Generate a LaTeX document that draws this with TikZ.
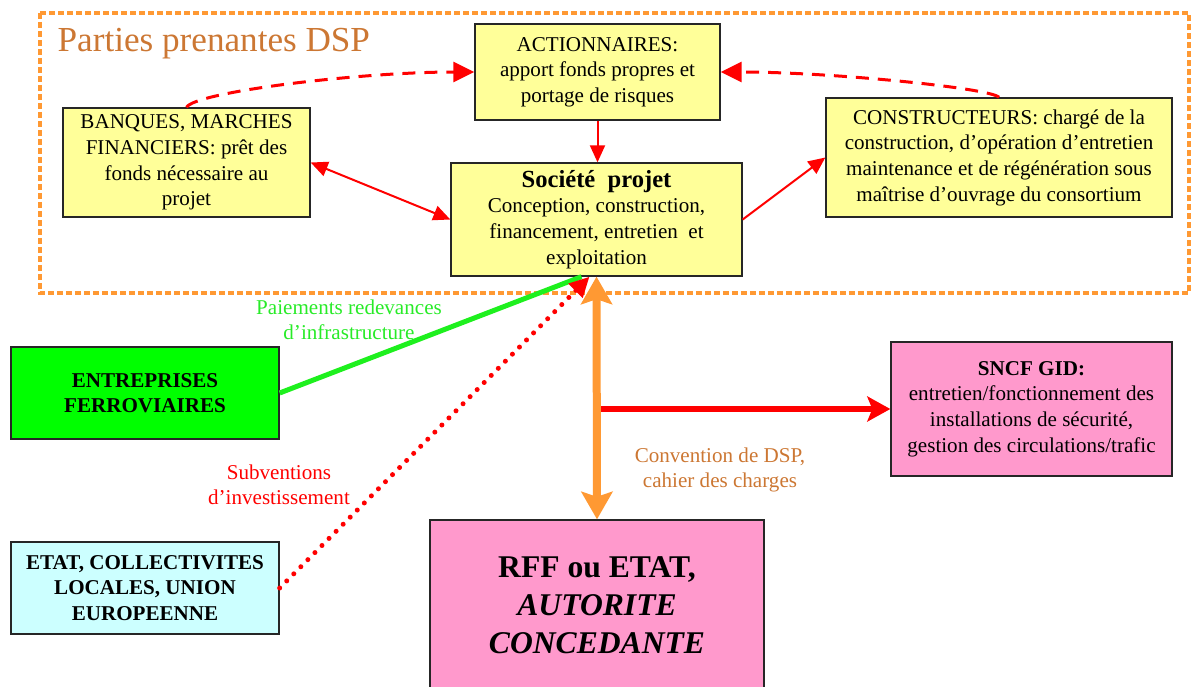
\documentclass[tikz,border=0pt]{standalone}
\usepackage{fontspec}
\setmainfont{Liberation Serif}
\usetikzlibrary{positioning, arrows.meta, calc}

\definecolor{boxyellow}{RGB}{255,255,153}
\definecolor{boxgreen}{RGB}{0,255,0}
\definecolor{boxcyan}{RGB}{204,255,255}
\definecolor{boxpink}{RGB}{255,153,204}
\definecolor{frameorange}{RGB}{255,153,51}
\definecolor{titlebrown}{RGB}{204,119,51}
\definecolor{linegreen}{RGB}{30,240,30}
\definecolor{labelgreen}{RGB}{40,235,40}

\begin{document}
\begin{tikzpicture}[x=0.02cm, y=0.02cm, thick,
  party/.style = {draw=black!85, line width=0.8pt, align=center, inner sep=0pt, font=\fontsize{12}{14.6}\selectfont},
  lien/.style = {red, line width=0.04cm, >={Triangle[length=0.34cm, width=0.3cm]}, ->},
  pointille/.style = {red, line width=0.06cm, dash pattern=on 0.26cm off 0.18cm, -{Triangle[length=0.42cm, width=0.4cm]}},
  etiquette/.style = {align=center, inner sep=0pt, font=\fontsize{12}{14.4}\selectfont}]
    \useasboundingbox (0,0) rectangle (1192,-686);
    % cadre des parties prenantes
    \draw[frameorange, line width=0.09cm, dash pattern=on 0.12cm off 0.06cm] (40,-13) rectangle (1189,-293);
    \node[anchor=base west, text=titlebrown, inner sep=0pt, font=\fontsize{20}{24}\selectfont] (titre) at (57,-52) {Parties prenantes DSP};

    \node[party, fill=boxyellow, minimum width=4.9cm, minimum height=1.92cm] (actionnaires) at (597.5,-72) {ACTIONNAIRES:\\apport fonds propres et\\portage de risques};
    \node[party, fill=boxyellow, minimum width=4.94cm, minimum height=2.18cm] (banques) at (186.5,-162.5) {BANQUES, MARCHES\\FINANCIERS: prêt des\\fonds nécessaire au\\projet};
    \node[party, fill=boxyellow, minimum width=5.82cm, minimum height=2.26cm] (societe) at (596.5,-219.5) {{\fontsize{14}{15}\selectfont\bfseries Société\ \ projet}\\Conception, construction,\\financement, entretien\ \ et\\exploitation};
    \node[party, fill=boxyellow, minimum width=6.92cm, minimum height=2.38cm] (constructeurs) at (999,-157.5) {CONSTRUCTEURS: chargé de la\\construction, d’opération d’entretien\\maintenance et de régénération sous\\maîtrise d’ouvrage du consortium};

    \node[party, fill=boxgreen, minimum width=5.36cm, minimum height=1.84cm, font=\fontsize{12}{14.6}\selectfont\bfseries] (entreprises) at (145,-393) {ENTREPRISES\\FERROVIAIRES};
    \node[party, fill=boxcyan, minimum width=5.36cm, minimum height=1.84cm, font=\fontsize{12}{14.6}\selectfont\bfseries] (etat) at (145,-588) {ETAT, COLLECTIVITES\\LOCALES, UNION\\EUROPEENNE};
    \node[party, fill=boxpink, minimum width=5.62cm, minimum height=2.68cm] (sncf) at (1031.5,-409) {\textbf{SNCF GID:}\\entretien/fonctionnement des\\installations de sécurité,\\gestion des circulations/trafic};
    \node[party, fill=boxpink, minimum width=6.68cm, minimum height=3.4cm, font=\fontsize{18}{21.5}\selectfont\bfseries] (rff) at (597,-605) {RFF ou ETAT,\\\textit{AUTORITE}\\\textit{CONCEDANTE}};

    % liens entre parties
    \draw[pointille] (banques.north) .. controls (195,-92) and (360,-72) .. (actionnaires.west);
    \draw[pointille] (constructeurs.north) .. controls (990,-88) and (830,-72) .. (actionnaires.east);
    \draw[lien] (actionnaires.south) -- (actionnaires.south |- societe.north);
    \draw[lien, <->] (banques.east) -- (societe.west);
    \draw[lien] (societe.east) -- (constructeurs.west);

    \draw[linegreen, line width=0.1cm] (entreprises.east) -- ([xshift=-0.3cm]societe.south);
    \draw[red, line width=0.12cm, -{Stealth[length=0.46cm, width=0.5cm, inset=0.1cm]}] (sncf.west -| rff.north) -- (sncf.west);
    \draw[frameorange, line width=0.16cm, {Stealth[length=0.55cm, width=0.62cm, inset=0.1cm]}-{Stealth[length=0.55cm, width=0.62cm, inset=0.1cm]}] (societe.south) -- (rff.north);
    \draw[red, line width=0.1cm, dash pattern=on 0pt off 0.2cm, line cap=round, -{Triangle[length=0.4cm, width=0.38cm]}] (etat.east) -- ([xshift=-0.14cm]societe.south);

    \node[etiquette, text=labelgreen] (paiements) at (349,-320) {Paiements redevances\\d’infrastructure};
    \node[etiquette, text=red] (subventions) at (279,-485) {Subventions\\d’investissement};
    \node[etiquette, text=titlebrown] (convention) at (720,-470) {Convention de DSP,\\cahier des charges};
\end{tikzpicture}
\end{document}
